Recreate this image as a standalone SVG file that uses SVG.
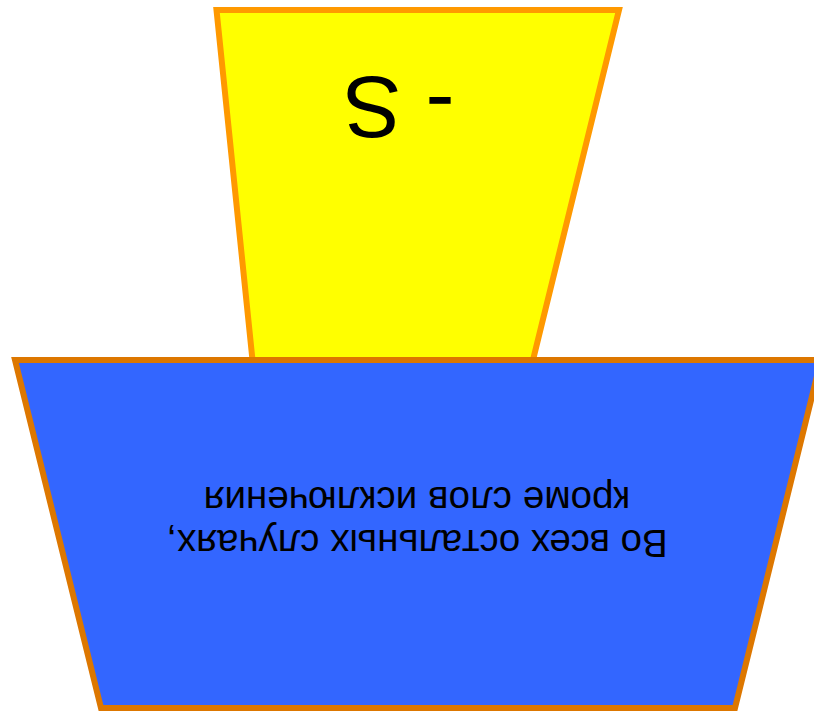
<svg xmlns="http://www.w3.org/2000/svg" width="814" height="711" viewBox="0 0 814 711">
  <style>
    .shape { stroke-width: 6; stroke-linejoin: miter; }
    .yellow { fill: #FFFF00; stroke: #FF9900; }
    .blue { fill: #3366FF; stroke: #DD7700; }
    .label { font-family: "Comic Sans MS", "Liberation Sans", sans-serif; fill: #000000; text-anchor: middle; }
  </style>
  <rect x="0" y="0" width="814" height="711" fill="#FFFFFF"/>
  <g id="node-suffix">
    <polygon class="shape yellow" points="216.5,10 619,10 533,360 252.5,360"/>
    <g transform="rotate(180 399 108)">
      <text class="label" x="399" y="139" font-size="87">- S</text>
    </g>
  </g>
  <g id="node-rule">
    <polygon class="shape blue" points="15,360 821,360 735,708 101,708"/>
    <g transform="rotate(180 417 508)">
      <text class="label" x="417" y="486" font-size="38.5">Во всех остальных случаях,</text>
      <text class="label" x="417" y="529" font-size="38.5">кроме слов исключения</text>
    </g>
  </g>
</svg>
